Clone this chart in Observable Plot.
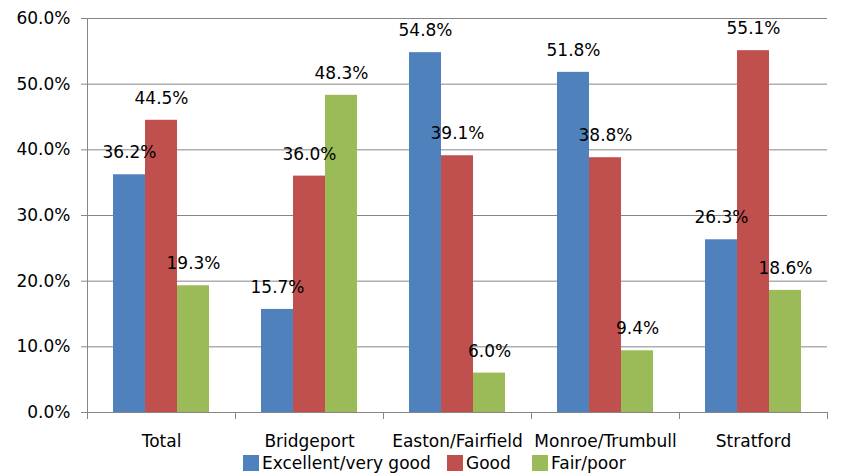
<!DOCTYPE html>
<html><head><meta charset="utf-8">
<script src="https://cdn.jsdelivr.net/npm/d3@7"></script>
<script src="https://cdn.jsdelivr.net/npm/@observablehq/plot@0.6"></script>
<style>
body{margin:0;background:#fff;font-family:"DejaVu Sans",sans-serif;}
#wrap{position:relative;width:846px;height:474px;}
.legend{position:absolute;top:454px;left:0;width:846px;height:18px;font-size:17px;color:#000;}
.item{position:absolute;top:0;display:flex;align-items:center;white-space:nowrap;line-height:18px;}
.sw{width:16px;height:16px;margin-right:3px;display:inline-block;}
</style></head><body><div id="wrap"></div>
<script>
const categories = ["Total", "Bridgeport", "Easton/Fairfield", "Monroe/Trumbull", "Stratford"];
const seriesNames = ["Excellent/very good", "Good", "Fair/poor"];
const excellent = [36.2, 15.7, 54.8, 51.8, 26.3];
const good = [44.5, 36.0, 39.1, 38.8, 55.1];
const fair = [19.3, 48.3, 6.0, 9.4, 18.6];
const colors = ["#4F81BD", "#C0504D", "#9BBB59"];
const yTicks = [0, 10, 20, 30, 40, 50, 60];

const data = [];
[excellent, good, fair].forEach((vals, s) => vals.forEach((v, i) =>
  data.push({category: categories[i], series: seriesNames[s], value: v})));

const grid = "#868686";
const fmt = v => v.toFixed(1) + "%";

const chart = Plot.plot({
  width: 846, height: 474,
  marginTop: 18, marginBottom: 62, marginLeft: 85, marginRight: 18,
  style: {fontFamily: "'DejaVu Sans', sans-serif", fontSize: "17px", color: "#000", background: "#fff"},
  fx: {domain: categories, paddingInner: 0, paddingOuter: 0, label: null, axis: null},
  x: {domain: seriesNames, paddingInner: 0, paddingOuter: 0.75, axis: null},
  y: {domain: [0, 60], label: null, axis: null},
  color: {domain: seriesNames, range: colors},
  marks: [
    Plot.gridY(yTicks, {stroke: grid, strokeOpacity: 1}),
    Plot.axisY(yTicks, {tickSize: 6, tickPadding: 11, tickFormat: fmt, stroke: grid, fill: "#000", label: null, fontSize: 17}),
    Plot.barY(data, {fx: "category", x: "series", y: "value", fill: "series"}),
    Plot.text(data, {fx: "category", x: "series", y: "value", text: d => fmt(d.value), dy: -22, lineAnchor: "middle", fontSize: 17, fill: "#000"}),
    Plot.frame({anchor: "bottom", stroke: grid}),
    Plot.frame({anchor: "left", fx: categories[0], stroke: grid}),
    Plot.frame({anchor: "left", insetTop: 394, insetBottom: -6, stroke: grid}),
    Plot.frame({anchor: "right", insetTop: 394, insetBottom: -6, stroke: grid}),
    Plot.axisFx({anchor: "bottom", tickSize: 0, tickPadding: 22, label: null, fontSize: 17})
  ]
});
document.getElementById("wrap").appendChild(chart);

const legend = document.createElement("div");
legend.className = "legend";
const lefts = [243, 447, 532];
seriesNames.forEach((name, i) => {
  const it = document.createElement("div");
  it.className = "item";
  it.style.left = lefts[i] + "px";
  const sw = document.createElement("span");
  sw.className = "sw";
  sw.style.background = colors[i];
  it.appendChild(sw);
  it.appendChild(document.createTextNode(name));
  legend.appendChild(it);
});
document.getElementById("wrap").appendChild(legend);
</script></body></html>
